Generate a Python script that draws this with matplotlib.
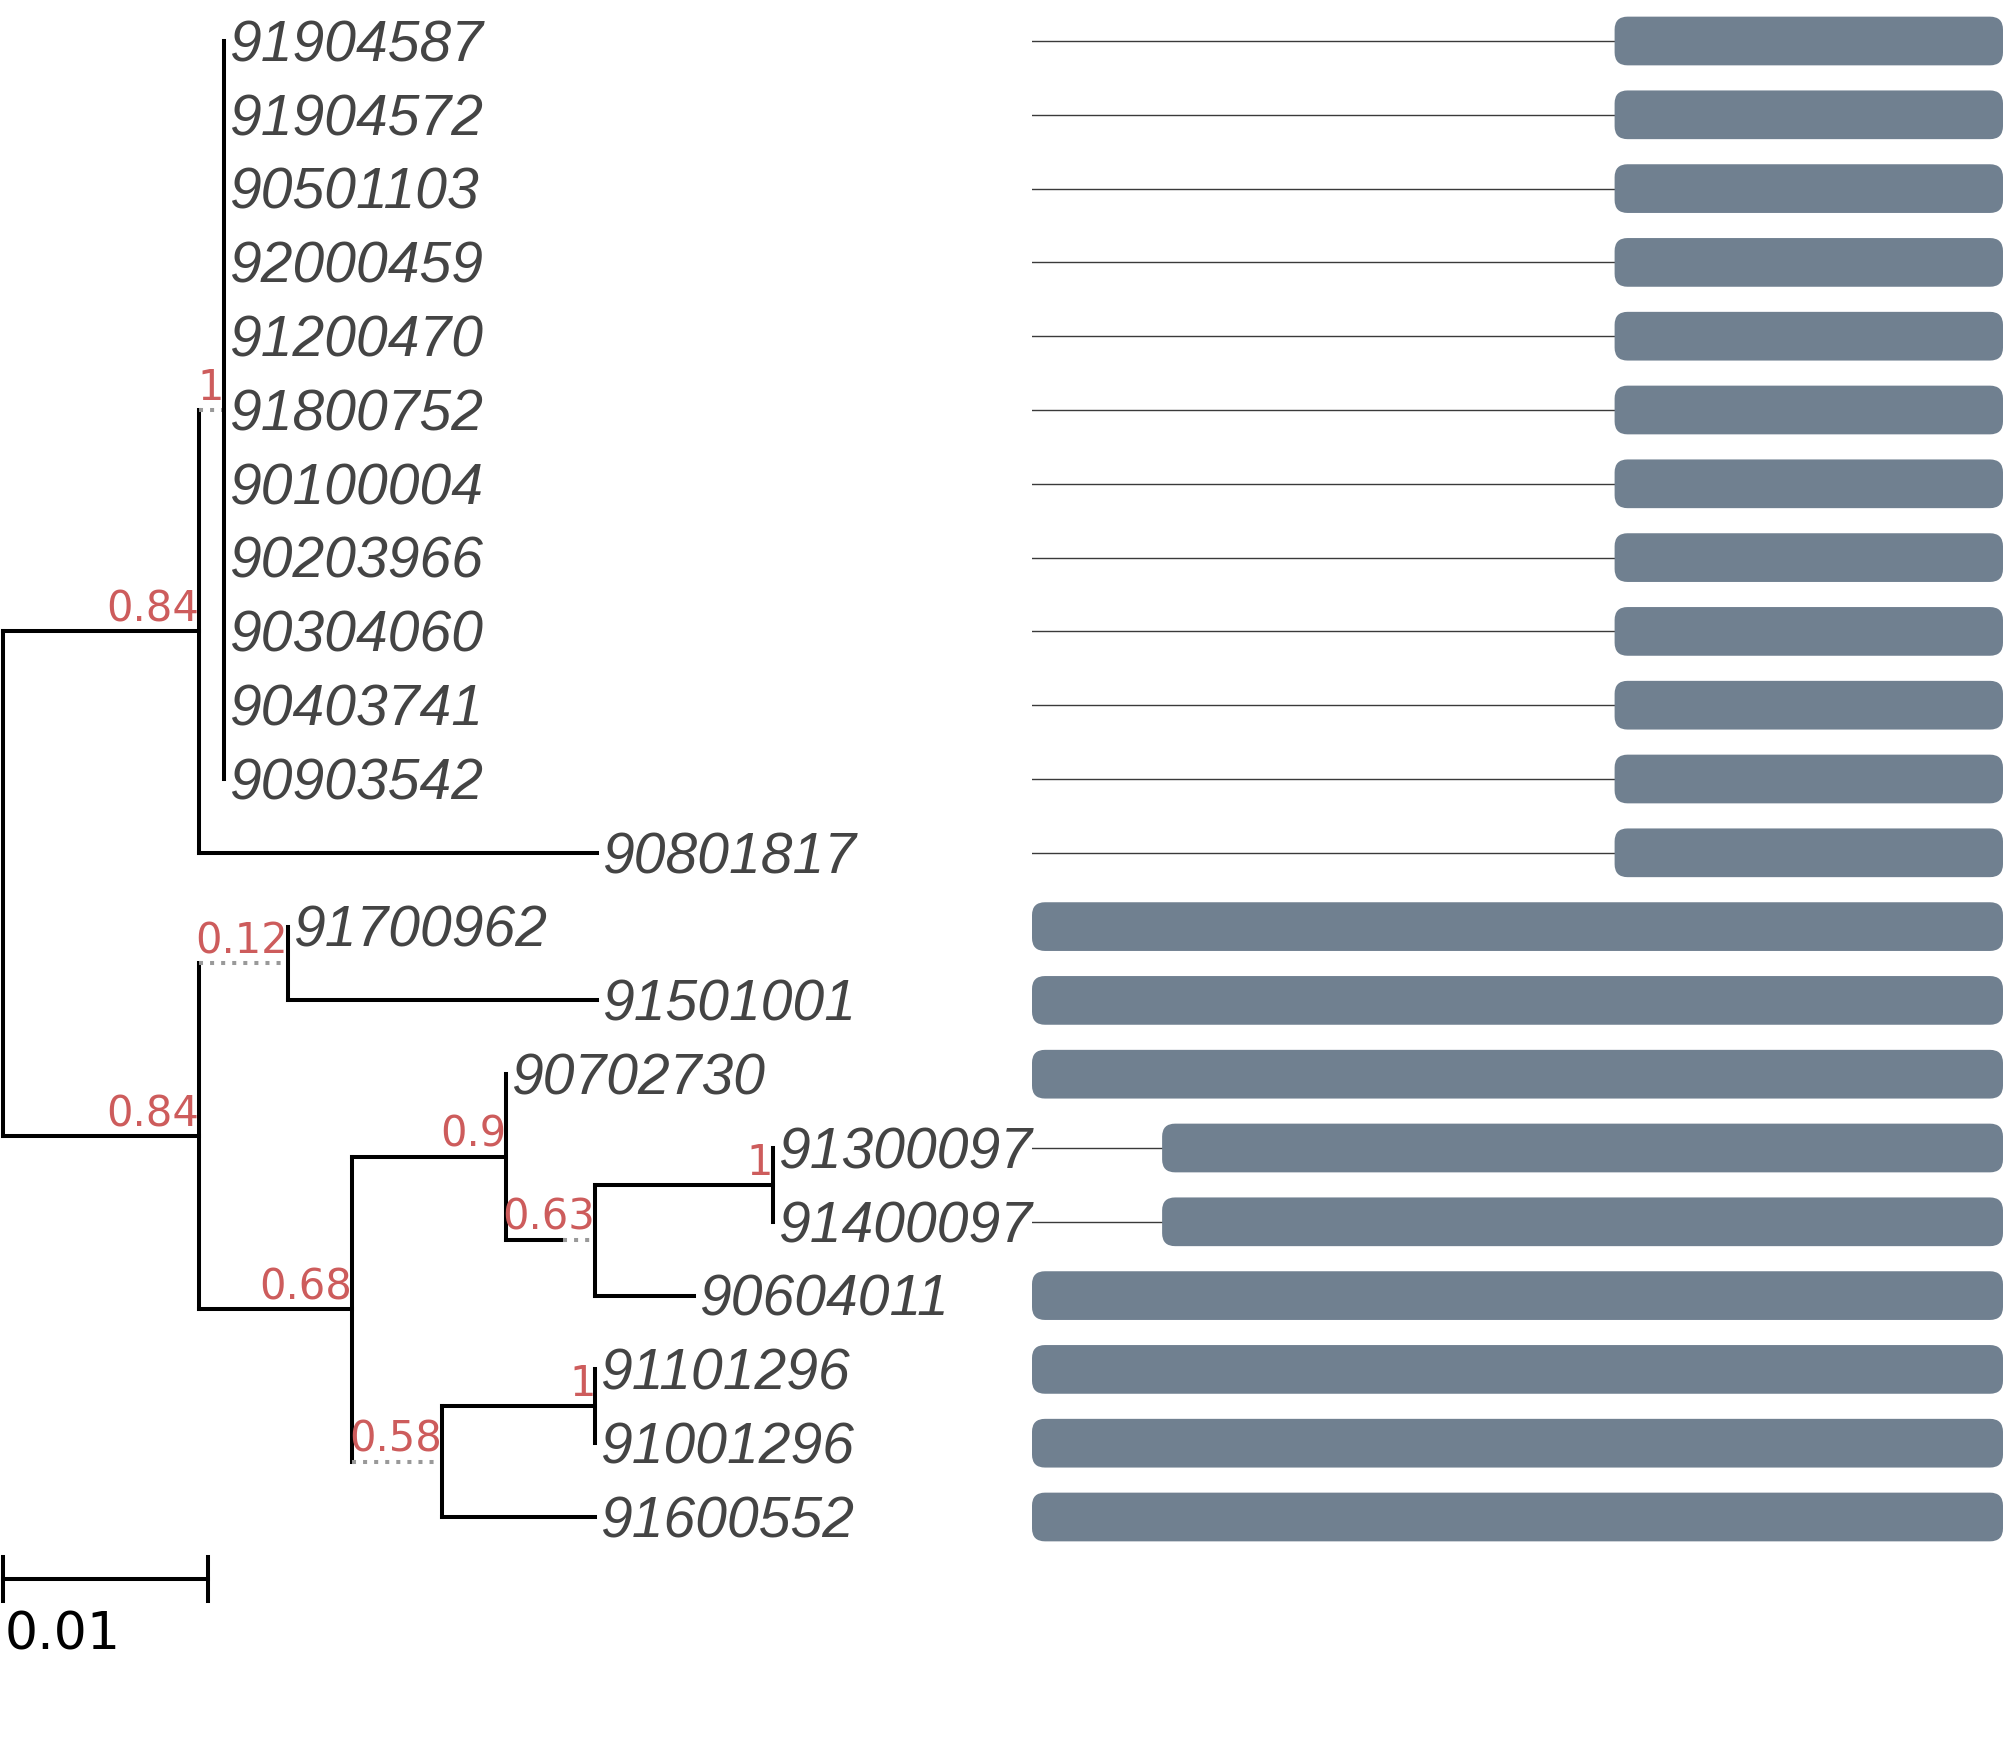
import matplotlib
matplotlib.use("Agg")
import matplotlib.pyplot as plt
from matplotlib.patches import FancyBboxPatch

# tips, top to bottom
tip_names = ["91904587", "91904572", "90501103", "92000459", "91200470",
             "91800752", "90100004", "90203966", "90304060", "90403741",
             "90903542", "90801817", "91700962", "91501001", "90702730",
             "91300097", "91400097", "90604011", "91101296", "91001296",
             "91600552"]

# tree topology (internal node -> children)
children = {
    "root": ["nA", "nB"],
    "nA": ["nA1", "90801817"],
    "nA1": tip_names[:11],
    "nB": ["nB1", "nB2"],
    "nB1": ["91700962", "91501001"],
    "nB2": ["nB2a", "nB2b"],
    "nB2a": ["90702730", "nB2a2"],
    "nB2a2": ["nB2a2a", "90604011"],
    "nB2a2a": ["91300097", "91400097"],
    "nB2b": ["nB2b1", "91600552"],
    "nB2b1": ["91101296", "91001296"],
}

branch_length = {
    "nA": 0.00956, "nA1": 0.0, "90801817": 0.01944,
    "nB": 0.00956, "nB1": 0.0, "91501001": 0.01506,
    "nB2": 0.0075, "nB2a": 0.0075, "nB2a2": 0.0028, "nB2a2a": 0.00869,
    "90604011": 0.0048, "nB2b": 0.0, "nB2b1": 0.0075, "91600552": 0.0075,
}

support = {
    "nA": 0.84, "nA1": 1, "nB": 0.84, "nB1": 0.12, "nB2": 0.68,
    "nB2a": 0.9, "nB2a2": 0.63, "nB2a2a": 1, "nB2b": 0.58, "nB2b1": 1,
}

# domain track: every sequence 0..100, grey box = domain
seq_length = 100
domain_start = [60] * 12 + [0, 0, 0, 13.4, 13.4] + [0, 0, 0, 0]
domain_end = [100] * 21

W, H = 2007, 1763
row0, rowh = 41, 73.8          # pixel y of first row, row spacing
px_unit = 20480                 # pixels per branch length unit
tree_w = 1032                   # width of tree panel in px
track_r = 2003

fig = plt.figure(figsize=(W / 100, H / 100), dpi=100)
ax = fig.add_axes([0, 0, tree_w / W, 1])
ax.set_xlim(-3 / px_unit, (tree_w - 3) / px_unit)
ax.set_ylim((H - row0) / rowh, -row0 / rowh)
ax.axis("off")

renderer = fig.canvas.get_renderer()
sup_font = dict(fontsize=30, family="DejaVu Sans", color="#cd5c5c")


def fmt(v):
    return f"{v:g}"


def text_width(s):
    t = ax.text(0, 0, s, fontsize=29, family="DejaVu Sans")
    w = t.get_window_extent(renderer).width
    t.remove()
    return w / px_unit


xpos = {"root": 0.0}
ypos = {n: i for i, n in enumerate(tip_names)}


def layout(n):
    for c in children.get(n, []):
        ext = text_width(fmt(support[c])) if c in support else 0.0
        xpos[c] = xpos[n] + max(branch_length.get(c, 0.0), ext)
        layout(c)
    if n in children:
        kids = children[n]
        ypos[n] = (ypos[kids[0]] + ypos[kids[-1]]) / 2


layout("root")

lw = 2.9
for n, kids in children.items():
    ax.plot([xpos[n], xpos[n]], [ypos[kids[0]], ypos[kids[-1]]],
            color="black", lw=lw, solid_capstyle="projecting")
    for c in kids:
        solid_end = xpos[n] + branch_length.get(c, 0.0)
        if solid_end > xpos[n]:
            ax.plot([xpos[n], solid_end], [ypos[c], ypos[c]], color="black",
                    lw=lw, solid_capstyle="projecting")
        if xpos[c] > solid_end + 1e-9:
            ax.plot([solid_end, xpos[c]], [ypos[c], ypos[c]], color="#999999",
                    lw=lw, linestyle=(0, (1, 1.75)))
        if c in support:
            ax.text(xpos[c], ypos[c] - 0.14, fmt(support[c]), ha="right",
                    va="baseline", **sup_font)

for name in tip_names:
    ax.text(xpos[name] + 5 / px_unit, ypos[name] + 0.275, name,
            fontsize=41, family="Liberation Sans", style="italic",
            color="#444444", ha="left", va="baseline")

# scale bar
sb_y = (1579 - row0) / rowh
ax.plot([0, 0.01], [sb_y, sb_y], color="black", lw=lw)
for xx in (0, 0.01):
    ax.plot([xx, xx], [sb_y - 0.3, sb_y + 0.3], color="black", lw=lw)
ax.text(0.0001, (1611 - row0) / rowh, "0.01", fontsize=37.5,
        family="DejaVu Sans", color="black", ha="left", va="top")

# domain track
ax2 = fig.add_axes([tree_w / W, 0, (track_r - tree_w) / W, 1])
ax2.set_xlim(0, seq_length)
ax2.set_ylim(ax.get_ylim())
ax2.axis("off")
aspect = ((track_r - tree_w) / seq_length) / rowh
for i, name in enumerate(tip_names):
    ax2.plot([0, seq_length], [i, i], color="#3a3a3a", lw=1.0)
    ax2.add_patch(FancyBboxPatch(
        (domain_start[i], i - 0.33), domain_end[i] - domain_start[i], 0.66,
        boxstyle="round,pad=0,rounding_size=1.34", mutation_aspect=aspect,
        fc="#708090", ec="none", zorder=3))

fig.savefig("out.png", dpi=100)
